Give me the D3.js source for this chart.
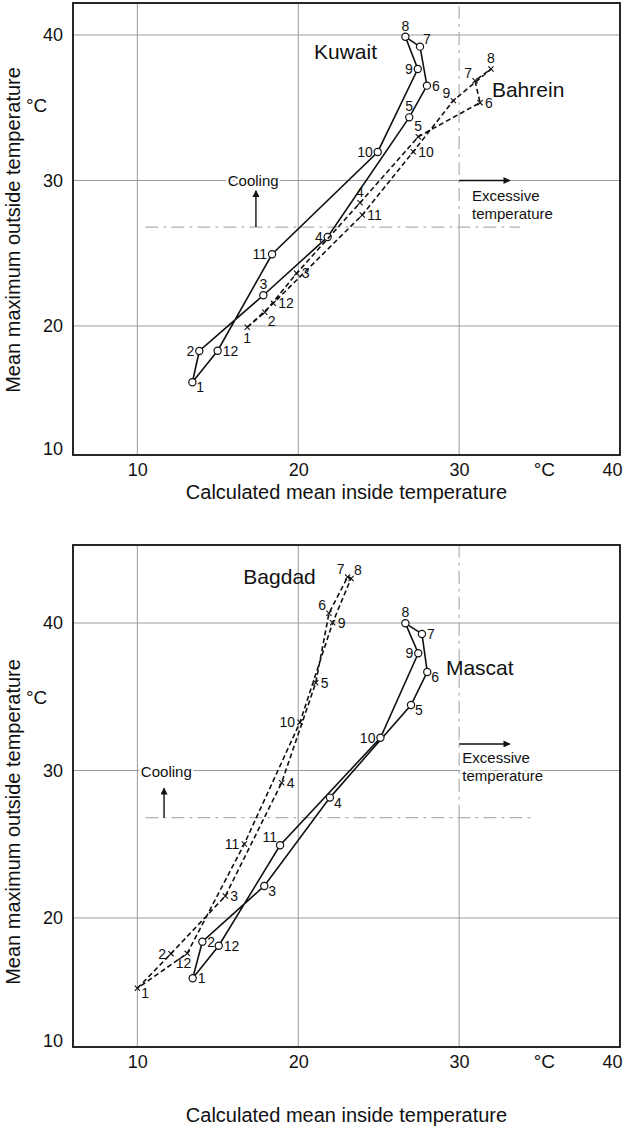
<!DOCTYPE html>
<html lang="en">
<head>
<meta charset="UTF-8">
<title>Mean maximum outside vs calculated mean inside temperature</title>
<style>
  body { margin: 0; background: #fff; }
  svg { font-family: "Liberation Sans", Arial, Helvetica, sans-serif; }
  .grid line { stroke: #9a9a9a; stroke-width: 1; }
  .frame { fill: none; stroke: #111; stroke-width: 1.8; }
  .axis text { font-size: 18px; fill: #111; }
  .axis path, .axis line { display: none; }
  .title { font-size: 20px; fill: #111; }
  .unit { font-size: 19px; fill: #111; }
  .city { font-size: 21px; fill: #111; }
  .note { font-size: 15px; fill: #111; paint-order: stroke; stroke: #fff; stroke-width: 5px; }
  .ptlabel { font-size: 14px; fill: #111; }
  .limit { stroke: #b0b0b0; stroke-width: 1.2; stroke-dasharray: 13,5,3,5; fill: none; }
</style>
</head>
<body>
<div id="chart"></div>
<script src="https://d3js.org/d3.v7.min.js"></script>
<script>
// months, shared by all four climates
const months = [1, 2, 3, 4, 5, 6, 7, 8, 9, 10, 11, 12];

// upper diagram
const kuwaitX = [13.42, 13.85, 17.83, 21.83, 26.9, 28.0, 27.57, 26.66, 27.43, 24.94, 18.37, 14.99];
const kuwaitY = [16.13, 18.28, 22.11, 26.12, 34.34, 36.52, 39.2, 39.88, 37.66, 31.96, 24.93, 18.3];
const bahreinX = [16.83, 17.92, 19.9, 23.84, 27.46, 31.3, 30.99, 31.98, 29.64, 27.15, 23.98, 18.45];
const bahreinY = [19.91, 20.94, 23.62, 28.47, 33.01, 35.35, 36.86, 37.66, 35.49, 31.98, 27.63, 21.56];

// lower diagram
const mascatX = [13.44, 14.04, 17.89, 21.97, 27.01, 28.02, 27.69, 26.66, 27.46, 25.11, 18.87, 15.06];
const mascatY = [15.91, 18.39, 22.17, 28.16, 34.44, 36.68, 39.26, 39.98, 37.95, 32.22, 24.93, 18.12];
const bagdadX = [10.0, 12.09, 15.47, 18.97, 21.09, 21.91, 23.07, 23.28, 22.14, 20.11, 16.65, 13.1];
const bagdadY = [15.23, 17.58, 21.49, 29.17, 35.95, 40.66, 43.12, 43.02, 40.02, 33.27, 25.02, 17.6];

// axes
const xTicks = [10, 20, 30, 40];
const xTickLabels = ["10", "20", "30", "40"];
const yTickLabels = ["10", "20", "30", "40"];
const coolingLevel = 26.8;   // mean max outside temperature where cooling starts
const excessiveLevel = 30;   // mean inside temperature regarded as excessive

const W = 630, H = 1131;
const svg = d3.select("#chart").append("svg")
  .attr("width", W)
  .attr("height", H);

// label placement around a marker: [dx, dy, anchor]
const place = {
  r: [5, 5, "start"], rd: [4, 10, "start"], l: [-5, 5, "end"],
  a: [0, -6, "middle"], b: [0, 16, "middle"], br: [3, 14, "start"],
  bl: [4, 15, "end"], ar: [3, -3, "start"], al: [-3, -3, "end"]
};

const panels = [
  {
    top: 3, bottom: 455, yDomain: [11.13, 42.2],
    yTitleY: 230, yUnitY: 112, xTickY: 455, xTitleY: 499,
    coolEnd: 33.8, coolArrowX: 17.37, coolArrowTop: 29.3,
    coolText: [17.2, 30, 6], excArrowY: 30, excText: [30.8, 28.6],
    series: [
      { name: "Kuwait", xs: kuwaitX, ys: kuwaitY, solid: true,
        pos: ["rd", "l", "a", "l", "a", "r", "ar", "a", "l", "l", "l", "r"],
        nameAt: [20.98, 38.35] },
      { name: "Bahrein", xs: bahreinX, ys: bahreinY, solid: false,
        pos: ["b", "br", "r", "a", "a", "r", "al", "a", "al", "r", "r", "r"],
        nameAt: [32.04, 35.74] }
    ]
  },
  {
    top: 545, bottom: 1047, yDomain: [11.25, 45.29],
    yTitleY: 822, yUnitY: 704, xTickY: 1047, xTitleY: 1122,
    coolEnd: 34.6, coolArrowX: 11.66, coolArrowTop: 28.8,
    coolText: [11.8, 30, 7], excArrowY: 31.8, excText: [30.2, 30.5],
    series: [
      { name: "Mascat", xs: mascatX, ys: mascatY, solid: true,
        pos: ["r", "r", "rd", "rd", "rd", "rd", "r", "a", "l", "l", "al", "r"],
        nameAt: [29.18, 36.48] },
      { name: "Bagdad", xs: bagdadX, ys: bagdadY, solid: false,
        pos: ["rd", "l", "r", "r", "r", "al", "al", "ar", "r", "l", "l", "bl"],
        nameAt: [16.59, 42.65] }
    ]
  }
];

const left = 73, right = 620;

svg.append("defs").append("marker")
  .attr("id", "head")
  .attr("viewBox", "0 0 10 10")
  .attr("refX", 9).attr("refY", 5)
  .attr("markerWidth", 9).attr("markerHeight", 7)
  .attr("markerUnits", "userSpaceOnUse")
  .attr("orient", "auto")
  .append("path")
  .attr("d", "M0,0L10,5L0,10z")
  .attr("fill", "#111");

panels.forEach(p => {
  const x = d3.scaleLinear().domain([6, 40]).range([left, right]);
  const y = d3.scaleLinear().domain(p.yDomain).range([p.bottom, p.top]);
  const g = svg.append("g");

  // grid
  const grid = g.append("g").attr("class", "grid");
  grid.selectAll(".gx")
    .data([10, 20, 30])
    .enter().append("line")
    .attr("x1", d => x(d)).attr("x2", d => x(d))
    .attr("y1", p.bottom)
    .attr("y2", d => d === excessiveLevel ? y(coolingLevel) : p.top);
  grid.selectAll(".gy")
    .data([20, 30, 40])
    .enter().append("line")
    .attr("x1", left).attr("x2", right)
    .attr("y1", d => y(d)).attr("y2", d => y(d));

  // cooling / excessive temperature limits
  g.append("line").attr("class", "limit")
    .attr("x1", x(10.5)).attr("x2", x(p.coolEnd))
    .attr("y1", y(coolingLevel)).attr("y2", y(coolingLevel));
  g.append("line").attr("class", "limit")
    .attr("x1", x(excessiveLevel)).attr("x2", x(excessiveLevel))
    .attr("y1", y(coolingLevel)).attr("y2", p.top);

  g.append("line")
    .attr("x1", x(p.coolArrowX)).attr("x2", x(p.coolArrowX))
    .attr("y1", y(coolingLevel)).attr("y2", y(p.coolArrowTop))
    .attr("stroke", "#111").attr("stroke-width", 1.4)
    .attr("marker-end", "url(#head)");
  g.append("text").attr("class", "note")
    .attr("x", x(p.coolText[0])).attr("y", y(p.coolText[1]) + p.coolText[2])
    .attr("text-anchor", "middle")
    .text("Cooling");

  g.append("line")
    .attr("x1", x(excessiveLevel)).attr("x2", x(33.15))
    .attr("y1", y(p.excArrowY)).attr("y2", y(p.excArrowY))
    .attr("stroke", "#111").attr("stroke-width", 1.4)
    .attr("marker-end", "url(#head)");
  const ex = g.append("text").attr("class", "note")
    .attr("x", x(p.excText[0])).attr("y", y(p.excText[1]));
  ex.append("tspan").attr("x", x(p.excText[0])).attr("dy", 0).text("Excessive");
  ex.append("tspan").attr("x", x(p.excText[0])).attr("dy", 18).text("temperature");

  // frame
  g.append("rect").attr("class", "frame")
    .attr("x", left).attr("y", p.top)
    .attr("width", right - left).attr("height", p.bottom - p.top);

  // axes
  const xAxis = g.append("g").attr("class", "axis")
    .attr("transform", `translate(0,${p.xTickY})`)
    .call(d3.axisBottom(x).tickValues(xTicks)
      .tickFormat((d, i) => xTickLabels[i]).tickSize(0).tickPadding(8));
  xAxis.selectAll("text").filter(d => d === 40).attr("text-anchor", "end").attr("dx", 2);

  const yTicks = [p.yDomain[0], 20, 30, 40];
  const yAxis = g.append("g").attr("class", "axis")
    .attr("transform", `translate(${left},0)`)
    .call(d3.axisLeft(y).tickValues(yTicks)
      .tickFormat((d, i) => yTickLabels[i]).tickSize(0).tickPadding(10));
  yAxis.selectAll("text").filter(d => d === p.yDomain[0]).attr("y", -6);

  g.append("text").attr("class", "unit")
    .attr("x", x(35.3)).attr("y", p.xTickY + 21)
    .attr("text-anchor", "middle").text("°C");
  g.append("text").attr("class", "unit")
    .attr("x", 26).attr("y", p.yUnitY)
    .attr("text-anchor", "start").text("°C");
  g.append("text").attr("class", "title")
    .attr("x", (left + right) / 2 + 0).attr("y", p.xTitleY)
    .attr("text-anchor", "middle")
    .text("Calculated mean inside temperature");
  g.append("text").attr("class", "title")
    .attr("transform", `translate(20,${p.yTitleY}) rotate(-90)`)
    .attr("text-anchor", "middle")
    .text("Mean maximum outside temperature");

  // series
  p.series.forEach(s => {
    const pts = months.map((m, i) => ({ m: m, x: s.xs[i], y: s.ys[i], pos: s.pos[i] }));
    const line = d3.line().x(d => x(d.x)).y(d => y(d.y)).curve(d3.curveLinearClosed);

    g.append("path")
      .datum(pts)
      .attr("d", line)
      .attr("fill", "none")
      .attr("stroke", "#111")
      .attr("stroke-width", 1.6)
      .attr("stroke-dasharray", s.solid ? null : "5,3");

    if (s.solid) {
      g.selectAll(null).data(pts).enter().append("circle")
        .attr("cx", d => x(d.x)).attr("cy", d => y(d.y))
        .attr("r", 3.6)
        .attr("fill", "#fff").attr("stroke", "#111").attr("stroke-width", 1.2);
    } else {
      g.selectAll(null).data(pts).enter().append("path")
        .attr("transform", d => `translate(${x(d.x)},${y(d.y)})`)
        .attr("d", "M-2.6,-2.6L2.6,2.6M-2.6,2.6L2.6,-2.6")
        .attr("stroke", "#111").attr("stroke-width", 1.1);
    }

    g.selectAll(null).data(pts).enter().append("text")
      .attr("class", "ptlabel")
      .attr("x", d => x(d.x) + place[d.pos][0])
      .attr("y", d => y(d.y) + place[d.pos][1])
      .attr("text-anchor", d => place[d.pos][2])
      .text(d => d.m);

    g.append("text").attr("class", "city")
      .attr("x", x(s.nameAt[0])).attr("y", y(s.nameAt[1]))
      .text(s.name);
  });
});
</script>
</body>
</html>
